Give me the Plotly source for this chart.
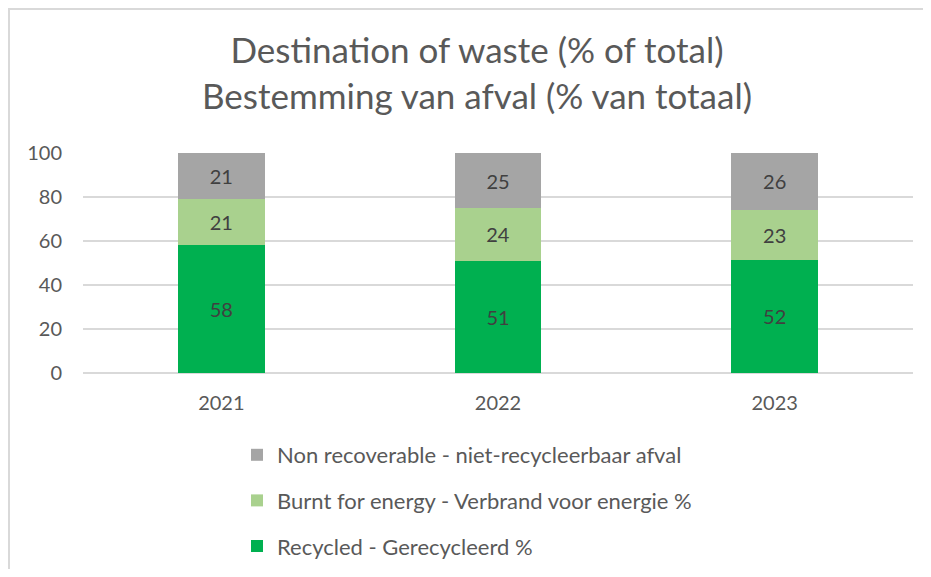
import plotly.graph_objects as go

years = ["2021", "2022", "2023"]
recycled = [58, 51, 52]
burnt = [21, 24, 23]
non_recoverable = [21, 25, 26]

series_names = [
    "Recycled - Gerecycleerd %",
    "Burnt for energy - Verbrand voor energie %",
    "Non recoverable - niet-recycleerbaar afval",
]
colors = ["#00B050", "#A9D18E", "#A5A5A5"]
ranks = [3, 2, 1]

# page body has an 8px margin; figure coords = screen coords - 8
W, H = 915, 561
L, R, T, B = 75, 10, 145, 196
pw = W - L - R
ph = H - T - B

fig = go.Figure()
for i, (name, vals, col) in enumerate(zip(series_names, [recycled, burnt, non_recoverable], colors)):
    fig.add_trace(go.Bar(
        x=years, y=vals, name=name, marker=dict(color=col, line=dict(width=0)),
        text=[str(v) for v in vals], texttemplate="%{text}", textposition="inside",
        insidetextanchor="middle", textangle=0,
        textfont=dict(family="Lato", size=20, color="#404040"),
        legendgroup=f"g{i}", legendrank=ranks[i],
    ))

def px_x(p):
    return (p - L) / pw

def px_y(p):
    return (H - B - p) / ph

fig.update_layout(
    width=W, height=H,
    margin=dict(l=L, r=R, t=T, b=B, autoexpand=False),
    barmode="stack", barnorm="percent", bargap=0.686,
    plot_bgcolor="white", paper_bgcolor="white",
    title=dict(
        text="Destination of waste (% of total)<br>Bestemming van afval (% van totaal)",
        x=(477 - 8) / W, xanchor="center", y=1 - 55 / H, yanchor="middle",
        font=dict(family="Lato", size=35, color="#595959"),
    ),
    xaxis=dict(
        tickfont=dict(family="Lato", size=20, color="#595959"),
        showgrid=False, showline=False, ticks="", ticklabelstandoff=16,
    ),
    yaxis=dict(
        range=[0, 100], tickvals=[0, 20, 40, 60, 80, 100],
        tickfont=dict(family="Lato", size=20, color="#595959"),
        showgrid=True, gridcolor="#D9D9D9", gridwidth=1.5,
        zeroline=True, zerolinecolor="#D9D9D9", zerolinewidth=1.5,
        ticks="", ticklabelstandoff=20, showline=False,
    ),
    legend=dict(
        orientation="v", xref="container", yref="container",
        x=229 / W, xanchor="left", y=1 - 426 / H, yanchor="top",
        traceorder="grouped", tracegroupgap=14,
        font=dict(family="Lato", size=22, color="#595959"),
        itemwidth=30,
    ),
    shapes=[dict(
        type="rect", xref="paper", yref="paper",
        x0=px_x(1), x1=px_x(W + 20), y0=px_y(H + 20), y1=px_y(1),
        line=dict(color="#D9D9D9", width=2), fillcolor="rgba(0,0,0,0)", layer="below",
    )],
    showlegend=True,
)

fig.write_html("out.html")
